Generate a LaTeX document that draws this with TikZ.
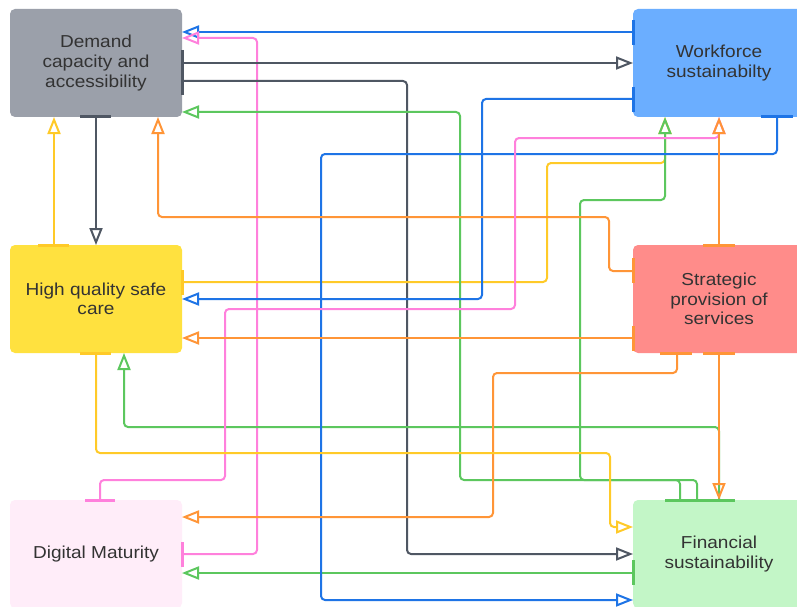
\documentclass[tikz,border=0pt]{standalone}
\usepackage{fontspec}
\setmainfont[FakeStretch=1.1]{Liberation Sans}
\usetikzlibrary{arrows.meta}
\definecolor{cblue}{HTML}{1E74E6}
\definecolor{cgray}{HTML}{4F5763}
\definecolor{cpink}{HTML}{FF80DC}
\definecolor{cgreen}{HTML}{5CC75E}
\definecolor{cyellow}{HTML}{FFCA28}
\definecolor{corange}{HTML}{FF9537}
\definecolor{fD}{HTML}{9BA0AA}
\definecolor{fW}{HTML}{6BAEFF}
\definecolor{fH}{HTML}{FFE13F}
\definecolor{fS}{HTML}{FF8C8A}
\definecolor{fM}{HTML}{FFEDF9}
\definecolor{fF}{HTML}{C3F6C7}
\definecolor{txt}{HTML}{333333}
\begin{document}
\begin{tikzpicture}[x=1pt,y=-1pt,
  box/.style={rectangle, rounded corners=5pt, minimum width=172pt, minimum height=108pt,
    inner sep=0pt, outer sep=0pt, align=center, text=txt,
    font=\fontsize{17.3}{19.6}\selectfont},
  conn/.style={line width=2pt, rounded corners=4pt,
    -{Triangle[open, length=17pt, width=13pt]}},
  barend/.style={line width=3pt},
]
\fill[white] (0,0) rectangle (797,607);
\useasboundingbox (0,0) rectangle (797,607);

\node[box, fill=fD] (D) at (96,63) {Demand\\capacity and\\accessibility};
\node[box, fill=fW] (W) at (719,63) {Workforce\\sustainabilty};
\node[box, fill=fH] (H) at (96,299) {High quality safe\\care};
\node[box, fill=fS] (S) at (719,299) {Strategic\\provision of\\services};
\node[box, fill=fM] (M) at (96,554) {Digital Maturity};
\node[box, fill=fF] (F) at (719,554) {Financial\\sustainability};

% connectors
\draw[conn, cblue] (W.west |- 0,32) -- (D.east |- 0,32);
\draw[conn, cpink] (M.east |- 0,554) -- (257,554) -- (257,38) -- (D.east |- 0,38);
\draw[conn, cgray] (D.east |- 0,63) -- (W.west |- 0,63);
\draw[conn, cgray] (D.east |- 0,81) -- (407,81) -- (407,554) -- (F.west |- 0,554);
\draw[conn, cyellow] (H.east |- 0,282) -- (547,282) -- (547,163) -- (665,163) -- (W.south -| 665,0);
\draw[conn, cgreen] (F.north -| 697,0) -- (697,480) -- (460,480) -- (460,112) -- (D.east |- 0,112);
\draw[conn, cgreen] (F.north -| 680,0) -- (680,480) -- (580,480) -- (580,200) -- (665,200) -- (W.south -| 665,0);
\draw[conn, cgreen] (F.north -| 719,0) -- (719,427) -- (124,427) -- (H.south -| 124,0);
\draw[conn, cgreen] (F.west |- 0,573) -- (M.east |- 0,573);
\draw[conn, cblue] (W.west |- 0,99) -- (482,99) -- (482,299) -- (H.east |- 0,299);
\draw[conn, cblue] (W.south -| 777,0) -- (777,154) -- (321,154) -- (321,600) -- (F.west |- 0,600);
\draw[conn, cyellow] (H.north -| 54,0) -- (D.south -| 54,0);
\draw[conn, cgray] (D.south -| 96,0) -- (H.north -| 96,0);
\draw[conn, corange] (S.west |- 0,271) -- (609,271) -- (609,217) -- (158,217) -- (D.south -| 158,0);
\draw[conn, cpink] (M.north -| 100,0) -- (100,480) -- (225,480) -- (225,309) -- (515,309) -- (515,138) -- (719,138) -- (W.south -| 719,0);
\draw[conn, corange] (S.west |- 0,338) -- (H.east |- 0,338);
\draw[conn, corange] (S.north -| 719,0) -- (W.south -| 719,0);
\draw[conn, corange] (S.south -| 677,0) -- (677,373) -- (493,373) -- (493,517) -- (M.east |- 0,517);
\draw[conn, corange] (S.south -| 719,0) -- (F.north -| 719,0);
\draw[conn, cyellow] (H.south -| 96,0) -- (96,453) -- (610,453) -- (610,527) -- (F.west |- 0,527);

% bar ends
\draw[barend, cblue] (W.west |- 0,20) -- (W.west |- 0,45);
\draw[barend, cblue] (W.west |- 0,87) -- (W.west |- 0,112);
\draw[barend, cblue] (W.south -| 761,0) -- (W.south -| 793,0);
\draw[barend, cgray] (D.east |- 0,50) -- (D.east |- 0,95);
\draw[barend, cgray] (D.south -| 80,0) -- (D.south -| 111,0);
\draw[barend, cyellow] (H.north -| 38,0) -- (H.north -| 69,0);
\draw[barend, cyellow] (H.east |- 0,270) -- (H.east |- 0,295);
\draw[barend, cyellow] (H.south -| 80,0) -- (H.south -| 111,0);
\draw[barend, corange] (S.west |- 0,258) -- (S.west |- 0,283);
\draw[barend, corange] (S.west |- 0,326) -- (S.west |- 0,351);
\draw[barend, corange] (S.north -| 703,0) -- (S.north -| 735,0);
\draw[barend, corange] (S.south -| 660,0) -- (S.south -| 692,0);
\draw[barend, corange] (S.south -| 703,0) -- (S.south -| 735,0);
\draw[barend, cpink] (M.north -| 85,0) -- (M.north -| 115,0);
\draw[barend, cpink] (M.east |- 0,542) -- (M.east |- 0,567);
\draw[barend, cgreen] (F.north -| 665,0) -- (F.north -| 735,0);
\draw[barend, cgreen] (F.west |- 0,560) -- (F.west |- 0,585);
\end{tikzpicture}
\end{document}
